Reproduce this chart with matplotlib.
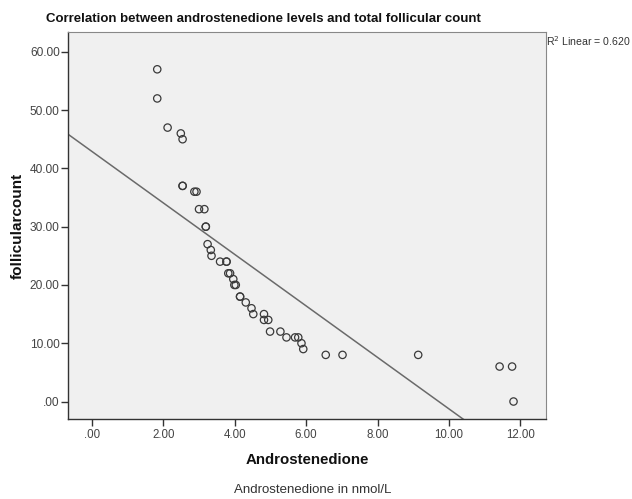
import numpy as np
import matplotlib
matplotlib.use("Agg")
import matplotlib.pyplot as plt

androstenedione = [1.83, 1.83, 2.12, 2.49, 2.54, 2.54, 2.54, 2.87, 2.93, 3.00, 3.15,
                   3.19, 3.19, 3.24, 3.33, 3.35, 3.59, 3.77, 3.77, 3.82, 3.87, 3.96,
                   3.99, 4.03, 4.15, 4.15, 4.31, 4.47, 4.52, 4.82, 4.82, 4.94, 4.99,
                   5.28, 5.45, 5.69, 5.78, 5.87, 5.92, 6.55, 7.02, 9.14, 11.42, 11.77, 11.81]
follicular_count = [57, 52, 47, 46, 45, 37, 37, 36, 36, 33, 33,
                    30, 30, 27, 26, 25, 24, 24, 24, 22, 22, 21,
                    20, 20, 18, 18, 17, 16, 15, 15, 14, 14, 12,
                    12, 11, 11, 11, 10, 9, 8, 8, 8, 6, 6, 0]
x_ticks = [0, 2, 4, 6, 8, 10, 12]
x_tick_labels = [".00", "2.00", "4.00", "6.00", "8.00", "10.00", "12.00"]
y_ticks = [0, 10, 20, 30, 40, 50, 60]
y_tick_labels = [".00", "10.00", "20.00", "30.00", "40.00", "50.00", "60.00"]

plt.rcParams['font.family'] = ['Liberation Sans', 'DejaVu Sans']

fig = plt.figure(figsize=(6.32, 4.99), dpi=100)
ax = fig.add_axes([68/632, 1-419/499, (546-68)/632, (419-32)/499])
ax.set_facecolor("#f0f0f0")

xlim = (-0.67, 12.72)
ylim = (-3.0, 63.4)
ax.set_xlim(*xlim)
ax.set_ylim(*ylim)

x = np.array(androstenedione)
y = np.array(follicular_count)
slope, intercept = np.polyfit(x, y, 1)
xs = np.array(xlim)
ax.plot(xs, slope*xs + intercept, color="#6a6a6a", lw=1.1, zorder=2)

ax.scatter(x, y, s=28, facecolors="none", edgecolors="#3a3a3a", linewidths=0.9, zorder=3)

ax.set_xticks(x_ticks)
ax.set_xticklabels(x_tick_labels)
ax.set_yticks(y_ticks)
ax.set_yticklabels(y_tick_labels)
ax.tick_params(direction="out", length=5, width=1, colors="#333333", labelcolor="#444444", pad=2)
ax.tick_params(axis="x", labelsize=8.3)
ax.tick_params(axis="y", labelsize=8.6, pad=1)

for s in ["left", "bottom"]:
    ax.spines[s].set_color("#333333")
    ax.spines[s].set_linewidth(1.0)
for s in ["top", "right"]:
    ax.spines[s].set_color("#888888")
    ax.spines[s].set_linewidth(0.8)

fig.text(263/632, 1-19/499, "Correlation between androstenedione levels and total follicular count",
         ha="center", va="center", fontsize=9.5, fontweight="bold", color="#111111")
ax.set_ylabel("follicularcount", fontsize=11, fontweight="bold", color="#111111", labelpad=4)
ax.set_xlabel("Androstenedione", fontsize=10.8, fontweight="bold", color="#111111", labelpad=9)
fig.text(313/632, 1-490/499, "Androstenedione in nmol/L", ha="center", va="center",
         fontsize=9.5, color="#333333")
fig.text(546/632, 1-41/499, "R$^2$ Linear = 0.620", ha="left", va="center",
         fontsize=7.6, color="#333333")

fig.savefig("out.png", dpi=100)
